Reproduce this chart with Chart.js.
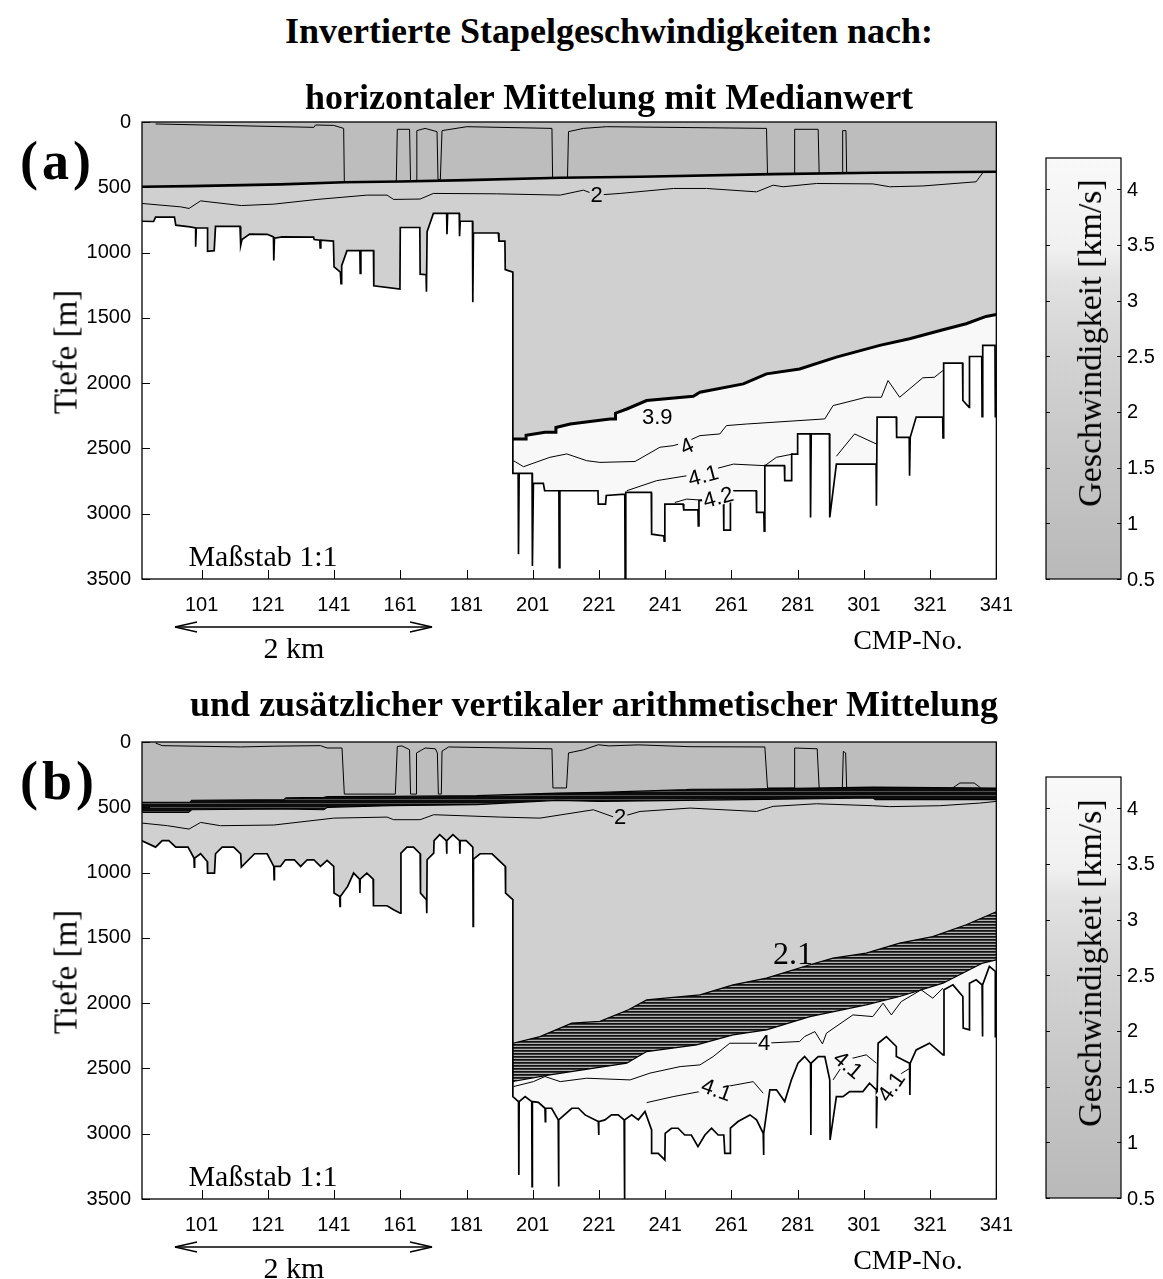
<!DOCTYPE html>
<html>
<head>
<meta charset="utf-8">
<script src="https://cdn.jsdelivr.net/npm/chart.js@4.4.1/dist/chart.umd.min.js"></script>
<style>
  body { margin: 0; background: #fff; width: 1163px; height: 1279px; position: relative; overflow: hidden; }
  canvas { position: absolute; left: 0; z-index: 1; }
  .txt { position: absolute; z-index: 2; white-space: nowrap; font-family: "Liberation Serif", serif; color: #000; transform: translate(-50%, -50%); line-height: 1; }
  .titel { font-weight: bold; font-size: 36px; }
  .panel { font-weight: bold; font-size: 54px; letter-spacing: 4px; transform: translate(0, -50%); }
  .achse { font-size: 30px; }
  .senk { transform: translate(-50%, -50%) rotate(-90deg); }
  .pfeil { position: absolute; left: 170px; z-index: 2; }
</style>
</head>
<body>

<canvas id="profilA" width="1019" height="560" style="top:100px"></canvas>
<canvas id="profilB" width="1019" height="560" style="top:720px"></canvas>
<canvas id="skalaA" width="163" height="460" style="left:1000px;top:140px"></canvas>
<canvas id="skalaB" width="163" height="460" style="left:1000px;top:759px"></canvas>

<div class="txt titel" style="left:609px;top:31px">Invertierte Stapelgeschwindigkeiten nach:</div>
<div class="txt titel" style="left:609px;top:97px">horizontaler Mittelung mit Medianwert</div>
<div class="txt titel" style="left:594px;top:704px">und zusätzlicher vertikaler arithmetischer Mittelung</div>

<div class="txt panel" style="left:20px;top:161px">(a)</div>
<div class="txt panel" style="left:20px;top:781px">(b)</div>

<div class="txt achse senk" style="left:66px;top:352px;font-size:33px">Tiefe [m]</div>
<div class="txt achse senk" style="left:66px;top:972px;font-size:33px">Tiefe [m]</div>
<div class="txt achse senk" style="left:1090px;top:343px;font-size:34px">Geschwindigkeit [km/s]</div>
<div class="txt achse senk" style="left:1090px;top:963px;font-size:34px">Geschwindigkeit [km/s]</div>

<div class="txt achse" style="left:263px;top:556px">Maßstab 1:1</div>
<div class="txt achse" style="left:263px;top:1176px">Maßstab 1:1</div>
<div class="txt achse" style="left:908px;top:640px;font-size:28px">CMP-No.</div>
<div class="txt achse" style="left:908px;top:1260px;font-size:28px">CMP-No.</div>
<div class="txt achse" style="left:294px;top:648px">2 km</div>
<div class="txt achse" style="left:294px;top:1268px">2 km</div>

<svg class="pfeil" style="top:617px" width="270" height="20">
  <line x1="5" y1="10" x2="262" y2="10" stroke="#000" stroke-width="1.3"/>
  <polyline points="27,5 5,10 27,15" fill="none" stroke="#000" stroke-width="1.3"/>
  <polyline points="240,5 262,10 240,15" fill="none" stroke="#000" stroke-width="1.3"/>
</svg>
<svg class="pfeil" style="top:1237px" width="270" height="20">
  <line x1="5" y1="10" x2="262" y2="10" stroke="#000" stroke-width="1.3"/>
  <polyline points="27,5 5,10 27,15" fill="none" stroke="#000" stroke-width="1.3"/>
  <polyline points="240,5 262,10 240,15" fill="none" stroke="#000" stroke-width="1.3"/>
</svg>

<script>
// Achsen
const cmpTicks = [101, 121, 141, 161, 181, 201, 221, 241, 261, 281, 301, 321, 341];
const tiefeTicks = [0, 500, 1000, 1500, 2000, 2500, 3000, 3500];
const vTicks = [0.5, 1, 1.5, 2, 2.5, 3, 3.5, 4];

// (a) Unterkante der Daten [CMP, Tiefe]
const unterkanteA = [[83,760],[86.5,762],[87.1,728],[92.8,728],[93.2,790],[97.5,803],[99.2,812],[99.2,955],[99.4,812],[102.8,812],[102.8,990],[104.8,985],[105.2,800],[112.6,800],[112.8,945],[113.2,900],[115.5,858],[120.8,860],[122.7,880],[122.8,1060],[123,890],[125.3,880],[134.8,882],[135,900],[136.7,905],[136.8,965],[137,905],[140.8,912],[141,1110],[142.9,1150],[143.1,1238],[143.3,1100],[144.9,985],[148.8,985],[148.9,1160],[149.1,985],[152.9,985],[153,1255],[160.9,1280],[161,808],[166.9,808],[167,1165],[168.8,1170],[168.9,1300],[169.1,840],[171,700],[175,700],[175.1,860],[175.3,700],[178.8,700],[178.9,875],[179.1,760],[182.8,760],[182.9,1380],[183.1,850],[190.6,850],[190.8,912],[192.6,912],[192.7,1130],[195,1150],[195,2691],[196.6,2691],[196.7,3310],[196.9,2691],[200.8,2691],[200.9,3400],[201.2,2768],[204.2,2768],[204.6,2824],[208.9,2824],[209,3413],[209.2,2824],[220.7,2824],[220.8,2926],[223,2926],[223.2,2860],[228.8,2850],[228.9,3500],[229.1,2837],[236.8,2837],[236.9,3157],[240.6,3170],[240.7,3210],[240.9,2926],[246.4,2926],[246.6,2970],[250.9,2970],[251,3093],[251.2,2900],[258.6,2888],[258.7,3126],[260.6,3126],[260.7,2824],[268.5,2824],[268.6,2990],[270.8,2990],[270.9,3133],[271.1,2632],[277,2632],[277.1,2747],[279,2747],[279.2,2543],[280.9,2543],[281,2389],[284.8,2389],[284.9,3029],[285.1,2389],[290.6,2389],[290.7,3029],[292.7,2620],[304.7,2620],[304.8,2939],[305,2260],[310.8,2260],[310.9,2415],[314.7,2415],[314.8,2709],[315,2415],[316.8,2260],[324.8,2260],[324.9,2420],[325.1,1847],[330.8,1847],[330.9,2133],[332.8,2185],[332.9,1796],[336.6,1796],[336.7,2256],[336.9,1711],[340.6,1711],[340.7,2256],[341,2256]];
// (a) Grenze der Deckschicht
const deckschichtA = [[83,496],[97.7,491],[124.8,478],[144,462],[161,456],[181.1,445],[209.3,427],[233.4,419],[273.6,399],[303.7,389],[341,381]];
// (a) Isolinie 3.9 km/s (Obergrenze der schnellen Schicht)
const grenze39A = [[195,2428],[199,2428],[199,2400],[204.7,2377],[208,2377],[208,2340],[212.3,2313],[224.3,2274],[226,2274],[226,2230],[229.4,2198],[235.4,2133],[249.5,2100],[251.5,2070],[264.6,2006],[271.6,1929],[281.6,1891],[292.7,1801],[305.8,1711],[314.8,1660],[324.9,1591],[331.9,1545],[337.9,1489],[341,1474]];
// (a) weitere Isolinien
const deckKonturA = [
  [[87.1,15],[134.9,41],[135.4,23],[140.9,26],[143.9,49],[144.1,453]],
  [[159.8,455],[160.1,56],[163.8,56],[164.1,452]],
  [[165.8,450],[166,66],[168.5,49],[172.1,74],[172.4,440],[173.1,440],[173.6,66],[181.1,36],[206.8,49],[207,427]],
  [[211.5,424],[211.8,74],[216.3,49],[223.3,36],[271.6,49],[271.9,400]],
  [[280.1,396],[280.1,56],[287.2,56],[287.5,392]],
  [[294.4,390],[294.6,66],[295.6,66],[295.8,390]]
];
const kontur2A = [[83,624],[94.7,650],[97.2,662],[100.7,604],[113,640],[122.8,629],[135.9,593],[151,560],[157,560],[159,593],[167,590],[171,547],[190,550],[209.3,560],[216.3,522],[220.3,560],[227.4,547],[243.5,509],[253.5,509],[268.6,535],[273.6,484],[276.6,496],[286.7,471],[303.7,474],[308.8,496],[318.8,490],[334.9,458],[336.9,389]];
const kontur4A = [[195.2,2594],[198.2,2640],[206.2,2568],[211.3,2542],[217.3,2594],[221.3,2607],[231.9,2600],[239.4,2491],[243.4,2479],[247,2453],[251.5,2402],[257.5,2389],[259.5,2325],[265.6,2313],[289.2,2274],[291.7,2172],[301.7,2108],[306.3,2108],[308.3,1980],[311.8,2108],[318.8,1959],[322.3,1955],[324.9,1903]];
const kontur41A = [
  [[229.4,2824],[238.4,2747],[249.5,2701],[261.6,2620],[271.1,2632],[274.6,2568],[279.6,2543]],
  [[292.7,2560],[298.2,2389],[304.8,2466]]
];
const kontur42A = [[243.9,2914],[247.5,2888],[251.5,2895],[255,2870],[258.5,2860]];
// (a) Beschriftungen: Text, CMP, Tiefe, Winkel, Fläche
const beschriftungA = [
  ['2', 220.3, 560, 0, 'mittel'],
  ['3.9', 238.6, 2259, 0, 'hell'],
  ['4', 247.5, 2484, -25, 'hell'],
  ['4.1', 252.5, 2709, -15, 'hell'],
  ['4.2', 257, 2875, -15, 'hell']
];

// (b) Unterkante der Daten
const unterkanteB = [[83,756],[87.1,805],[89.1,756],[91.1,756],[93.2,805],[96.9,805],[98.7,889],[98.8,958],[98.9,889],[100.7,856],[102.7,915],[102.8,1004],[104.9,1004],[105.2,856],[107.2,805],[110.7,805],[112.8,856],[113,958],[117,856],[120.8,856],[122.8,953],[122.9,1055],[123,953],[124.8,953],[126.3,902],[129,902],[130.9,953],[132.9,902],[134.9,902],[136.9,953],[138.9,907],[140.9,953],[141,1157],[142.7,1183],[142.8,1260],[142.9,1183],[145.1,1106],[146.9,1004],[148.7,1050],[148.8,1157],[148.9,1050],[150.9,1004],[152.8,1050],[152.9,1254],[157,1254],[159,1285],[161,1311],[161.2,851],[163,805],[165,805],[167,856],[167.1,1157],[168.9,1208],[169,1311],[169.1,902],[171.1,851],[171.2,756],[172.9,710],[174.9,756],[175,856],[175.1,756],[176.9,710],[178.9,756],[179,856],[179.1,756],[180.9,756],[182.9,805],[183,1413],[183.1,897],[185.1,856],[188.7,856],[192.7,953],[192.8,1157],[195,1208],[195,2716],[196.7,2754],[196.8,3316],[196.9,2754],[198.7,2716],[200.7,2754],[200.8,3405],[200.9,2754],[202.7,2760],[204.7,2805],[204.8,2907],[204.9,2805],[206.7,2805],[208.7,2894],[208.8,3405],[208.9,2894],[212.8,2805],[214.8,2805],[216.8,2856],[220.8,2907],[220.9,3010],[221,2907],[222.8,2894],[224.8,2856],[226.8,2856],[228.6,2894],[228.7,3500],[228.8,2894],[230.9,2856],[232.9,2894],[234.9,2830],[236.9,2971],[236.9,3150],[238.9,3150],[240.9,3201],[241,2997],[242.9,2958],[244.9,2958],[246.9,3010],[248.9,3010],[250.9,3099],[253,3010],[255,2958],[257,3010],[258.7,3010],[259,3150],[260.7,3150],[260.7,2958],[263,2907],[266.6,2856],[268.6,2894],[270.6,2997],[270.7,3163],[270.8,2997],[272.6,2664],[274.6,2664],[277.1,2754],[279.1,2588],[281.1,2460],[283.1,2409],[284.9,2460],[285,3010],[285.1,2460],[287.2,2409],[289.2,2409],[290.7,2588],[290.8,3048],[292.7,2716],[294.7,2716],[296.7,2677],[300.7,2677],[302.7,2613],[304.8,2664],[304.8,2958],[305.3,2307],[307.8,2256],[310.8,2332],[310.8,2409],[314.8,2460],[314.9,2703],[315,2460],[316.8,2358],[320.8,2307],[324.9,2396],[325.2,1898],[327.9,1860],[330.9,1949],[331,2191],[332.9,2204],[332.9,1847],[334.9,1821],[336.7,1860],[336.8,2256],[336.9,1860],[338.9,1719],[340.7,1757],[340.7,2256],[341,2256]];
// (b) Deckschicht: Ober- und Unterkante des dichten Isolinienbandes
const deckschichtB = [[83,463],[97.5,461],[98,446],[125.8,442],[126.5,428],[137.9,424],[139,418],[158,417],[184.1,411],[208.3,391],[221.3,386],[247.4,365],[248.5,362],[265.6,360],[303.7,345],[341,353]];
const schichtUntenB = [[83,539],[97,539],[98,519],[125.8,513],[137.9,519],[139,500],[158,488],[184.1,480],[208.3,447],[221.3,455],[247.4,447],[265.6,442],[303.7,429],[304.5,442],[341,442]];
// (b) Band 2.1 ... 3.9 km/s
const bandObenB = [[195,2307],[203.2,2256],[212.8,2153],[221.3,2140],[229.9,2051],[235.4,1975],[251.5,1936],[261.5,1860],[271.6,1808],[284.7,1706],[291.7,1655],[301.7,1617],[311.8,1540],[321.8,1490],[331.9,1400],[341,1300]];
const bandUntenB = [[195,2600],[206.2,2549],[229.4,2460],[235.4,2371],[250.5,2320],[261.5,2243],[271.6,2205],[284.7,2103],[301.7,2013],[311.8,1949],[324.9,1847],[336.9,1693],[341,1668]];
// (b) weitere Isolinien
const deckKonturB = [
  [[87.1,8],[89.1,28],[112.8,38],[122.8,32],[136.9,28],[138.9,46],[143.4,46],[144.1,399],[159.5,399],[160.1,34],[161.5,30],[163.8,59],[164.1,399],[165.8,399],[165.9,84],[168.5,46],[171.6,52],[172.2,84],[172.5,399],[173.4,399],[173.6,70],[175.6,38],[206.8,52],[207.1,352],[211.2,352],[211.8,84],[216.3,60],[220.8,21],[224,30],[233,22],[248.5,36],[271.1,38],[271.9,352],[280.1,352],[280.1,46],[286.9,52],[287.5,352]],
  [[294.5,352],[294.8,72],[295.5,84],[295.8,352]],
  [[327.8,352],[330,314],[334.3,314],[336.3,352]]
];
const kontur2B = [[83,621],[90.7,641],[97.2,667],[100.7,616],[106.7,641],[122.8,636],[140.9,583],[157,575],[159,595],[167,595],[171.1,557],[191.2,575],[203.2,583],[219.3,519],[226.4,583],[233.4,532],[248.5,506],[268.6,532],[273.6,493],[286.7,473],[303.7,488],[308.8,495],[323.9,488],[335.9,468],[341,455]];
const kontur4B = [[195.2,2639],[201.2,2601],[204.7,2562],[209.3,2601],[217.3,2575],[230.4,2588],[236.4,2536],[245.5,2486],[251.5,2473],[255.5,2409],[260.5,2307],[270.6,2307],[281.6,2294],[283.1,2256],[286.2,2218],[288.5,2312],[289.7,2230],[297.7,2090],[303.7,2103],[306.8,2000],[309.3,2090],[312.3,1988],[318.3,1898],[321.8,1962],[324.9,1885]];
const kontur41B = [
  [[235.4,2762],[243.4,2716],[251.5,2677],[259.5,2639],[267.6,2601],[270.6,2690]],
  [[291.7,2588],[295.7,2434],[301.7,2396],[304.8,2460]],
  [[305.3,2690],[308,2620],[311,2560],[314.8,2500]]
];
const beschriftungB = [
  ['2', 227.4, 575, 0, 'mittel'],
  ['2.1', 279.6, 1630, 0, 'mittel', 'serif'],
  ['4', 270.9, 2307, 0, 'hell'],
  ['4.1', 256.5, 2664, 20, 'hell'],
  ['4.1', 296.2, 2473, 40, 'hell'],
  ['4.1', 309.3, 2639, -55, 'hell']
];

// Farbskala
const skalaFarben = [[0.5, '#b9b9b9'], [1.5, '#c5c5c5'], [2.5, '#d3d3d3'], [3.2, '#e2e2e2'], [3.45, '#f0f0f0'], [4.28, '#f9f9f9']];

const flaechen = { dunkel: '#bdbdbd', mittel: '#d0d0d0', hell: '#f8f8f8' };
const tickFont = { family: 'Liberation Sans', size: 20 };

function streifen(farben) {
  const c = document.createElement('canvas');
  c.width = 4; c.height = farben.length;
  const g = c.getContext('2d');
  farben.forEach((f, i) => { g.fillStyle = f; g.fillRect(0, i, 4, 1); });
  return g.createPattern(c, 'repeat');
}

function linie(punkte, opts) {
  return Object.assign({
    data: punkte.map(p => ({ x: p[0], y: p[1] })),
    borderColor: '#000', borderWidth: 1, pointRadius: 0, tension: 0, fill: false, order: 3
  }, opts || {});
}

// Rahmen und nach innen zeigende Ticks
const rahmenPlugin = {
  id: 'rahmen',
  afterDraw(chart) {
    const { ctx, chartArea: a, scales } = chart;
    ctx.save();
    ctx.strokeStyle = '#000';
    ctx.lineWidth = 1.3;
    ctx.strokeRect(a.left, a.top, a.width, a.height);
    ctx.lineWidth = 1;
    ctx.beginPath();
    scales.y.ticks.forEach(t => {
      const py = Math.round(scales.y.getPixelForValue(t.value)) + 0.5;
      ctx.moveTo(a.left, py); ctx.lineTo(a.left + 8, py);
    });
    scales.x.ticks.forEach(t => {
      const px = Math.round(scales.x.getPixelForValue(t.value)) + 0.5;
      ctx.moveTo(px, a.bottom); ctx.lineTo(px, a.bottom - 9);
    });
    ctx.stroke();
    ctx.restore();
  }
};

// Beschriftung der Isolinien
const konturTextPlugin = {
  id: 'konturText',
  afterDatasetsDraw(chart, args, opts) {
    const { ctx, scales } = chart;
    ctx.save();
    (opts.labels || []).forEach(([text, x, y, winkel, flaeche, art]) => {
      const px = scales.x.getPixelForValue(x);
      const py = scales.y.getPixelForValue(y);
      ctx.save();
      ctx.translate(px, py);
      ctx.rotate(winkel * Math.PI / 180);
      ctx.font = art === 'serif' ? '32px "Liberation Serif"' : '22px "Liberation Sans"';
      const w = ctx.measureText(text).width;
      ctx.fillStyle = flaechen[flaeche];
      ctx.fillRect(-w / 2 - 1, -8, w + 2, 16);
      ctx.fillStyle = '#000';
      ctx.textAlign = 'center';
      ctx.textBaseline = 'middle';
      ctx.fillText(text, 0, 1);
      ctx.restore();
    });
    ctx.restore();
  }
};

function profil(id, datasets, labels) {
  return new Chart(document.getElementById(id), {
    type: 'line',
    data: { datasets },
    options: {
      responsive: false,
      animation: false,
      layout: { padding: { left: 82, top: 22, right: 20, bottom: 41 } },
      plugins: { legend: { display: false }, tooltip: { enabled: false }, konturText: { labels } },
      scales: {
        x: {
          type: 'linear', min: 83, max: 341,
          afterBuildTicks: s => { s.ticks = cmpTicks.map(v => ({ value: v })); },
          afterFit: s => { s.height = 40; },
          grid: { display: false }, border: { display: false },
          ticks: { font: tickFont, color: '#000', padding: 6, maxRotation: 0, autoSkip: false, callback: v => String(v) }
        },
        y: {
          type: 'linear', reverse: true, min: 0, max: 3500,
          afterBuildTicks: s => { s.ticks = tiefeTicks.map(v => ({ value: v })); },
          afterFit: s => { s.width = 60; },
          grid: { display: false }, border: { display: false },
          ticks: { font: tickFont, color: '#000', padding: 3, autoSkip: false, callback: v => String(v) }
        }
      }
    },
    plugins: [konturTextPlugin, rahmenPlugin]
  });
}

// Panel (a)
const knickA = unterkanteA.findIndex(p => p[0] >= 195);
const mittelA = unterkanteA.slice(0, knickA + 1).concat(grenze39A);
profil('profilA', [
  linie(unterkanteA, { fill: { value: 0 }, backgroundColor: flaechen.hell, borderWidth: 0, order: 10 }),
  linie(mittelA, { fill: { value: 0 }, backgroundColor: flaechen.mittel, borderWidth: 0, order: 9 }),
  linie(deckschichtA, { fill: { value: 0 }, backgroundColor: flaechen.dunkel, borderWidth: 2.6, order: 8 }),
  linie(grenze39A, { borderWidth: 3, order: 4 }),
  ...deckKonturA.map(s => linie(s)),
  linie(kontur2A),
  linie(kontur4A),
  ...kontur41A.map(s => linie(s)),
  linie(kontur42A),
  linie(unterkanteA, { borderWidth: 1.7, order: 1 })
], beschriftungA);

// Panel (b)
const knickB = unterkanteB.findIndex(p => p[0] >= 195);
const mittelB = unterkanteB.slice(0, knickB + 1).concat(bandObenB);
profil('profilB', [
  linie(unterkanteB, { fill: { value: 0 }, backgroundColor: flaechen.hell, borderWidth: 0, order: 10 }),
  linie(bandUntenB, { fill: { value: 0 }, backgroundColor: streifen(['#121212', '#3a3a3a', '#b0b0b0']), borderWidth: 1.2, order: 9.5 }),
  linie(mittelB, { fill: { value: 0 }, backgroundColor: flaechen.mittel, borderWidth: 0, order: 9 }),
  linie(schichtUntenB, { fill: { value: 0 }, backgroundColor: streifen(['#0c0c0c', '#0c0c0c', '#0c0c0c', '#505050']), borderWidth: 1.2, order: 8.5 }),
  linie(deckschichtB, { fill: { value: 0 }, backgroundColor: flaechen.dunkel, borderWidth: 1.2, order: 8 }),
  linie(bandObenB, { borderWidth: 1.2, order: 4 }),
  ...deckKonturB.map(s => linie(s)),
  linie(kontur2B),
  linie(kontur4B),
  ...kontur41B.map(s => linie(s)),
  linie(unterkanteB, { borderWidth: 1.7, order: 1 })
], beschriftungB);

// Farbskala rechts, Beschriftung links ausgerichtet neben dem Balken
const farbskalaPlugin = {
  id: 'farbskala',
  beforeDatasetsDraw(chart) {
    const { ctx, chartArea: a, scales } = chart;
    const grad = ctx.createLinearGradient(0, a.bottom, 0, a.top);
    const y = scales.y;
    skalaFarben.forEach(([v, f]) => {
      grad.addColorStop((v - y.min) / (y.max - y.min), f);
    });
    ctx.save();
    ctx.fillStyle = grad;
    ctx.fillRect(a.left, a.top, a.width, a.height);
    ctx.restore();
  },
  afterDraw(chart) {
    const { ctx, chartArea: a, scales } = chart;
    ctx.save();
    ctx.strokeStyle = '#000';
    ctx.lineWidth = 1.2;
    ctx.strokeRect(a.left, a.top, a.width, a.height);
    ctx.lineWidth = 1;
    ctx.beginPath();
    scales.y.ticks.forEach(t => {
      const py = Math.round(scales.y.getPixelForValue(t.value)) + 0.5;
      ctx.moveTo(a.left, py); ctx.lineTo(a.left + 4, py);
      ctx.moveTo(a.right, py); ctx.lineTo(a.right - 4, py);
    });
    ctx.stroke();
    ctx.fillStyle = '#000';
    ctx.font = '20px "Liberation Sans"';
    ctx.textAlign = 'left';
    ctx.textBaseline = 'middle';
    scales.y.ticks.forEach(t => {
      ctx.fillText(String(t.value), a.right + 6, scales.y.getPixelForValue(t.value) + 1);
    });
    ctx.restore();
  }
};

function farbskala(id) {
  return new Chart(document.getElementById(id), {
    type: 'line',
    data: { datasets: [] },
    options: {
      responsive: false,
      animation: false,
      layout: { padding: { left: 46, top: 18, right: 0, bottom: 21 } },
      plugins: { legend: { display: false }, tooltip: { enabled: false } },
      scales: {
        x: { display: false },
        y: {
          type: 'linear', position: 'right', min: 0.5, max: 4.28,
          afterBuildTicks: s => { s.ticks = vTicks.map(v => ({ value: v })); },
          afterFit: s => { s.width = 42; },
          grid: { display: false }, border: { display: false },
          ticks: { display: false }
        }
      }
    },
    plugins: [farbskalaPlugin]
  });
}

farbskala('skalaA');
farbskala('skalaB');
</script>
</body>
</html>
